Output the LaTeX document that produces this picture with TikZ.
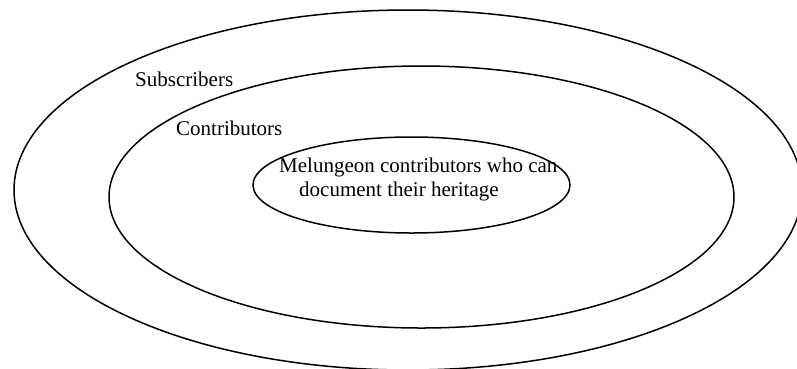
\documentclass[tikz,border=0pt]{standalone}
\usepackage{fontspec}
\setmainfont{Liberation Serif}
\usepackage{tikz}
\usetikzlibrary{shapes.geometric,positioning}

\tikzset{
    ring/.style={draw, ellipse, line width=1.5pt, inner sep=0pt},
    lbl/.style={font=\fontsize{21}{24}\selectfont, inner sep=0pt, anchor=base west}
}

\begin{document}
\begin{tikzpicture}[x=1pt, y=-1pt]
    \clip (0,0) rectangle (797,368);

    % Nested sets
    \node[ring, minimum width=788pt, minimum height=360pt] (subs) at (408,190) {};
    \node[ring, minimum width=625pt, minimum height=262pt] (contr) at (421.5,197) {};
    \node[ring, minimum width=317pt, minimum height=96pt] (mel) at (411.5,185) {};

    % Labels
    \node[lbl] (subslbl) at (135,86) {Subscribers};
    \node[lbl] (contrlbl) at (176,135) {Contributors};
    \node[lbl, align=left] (mellbl) at (279,196) {Melungeon contributors who can\\\hspace*{20pt}document their heritage};
\end{tikzpicture}
\end{document}
